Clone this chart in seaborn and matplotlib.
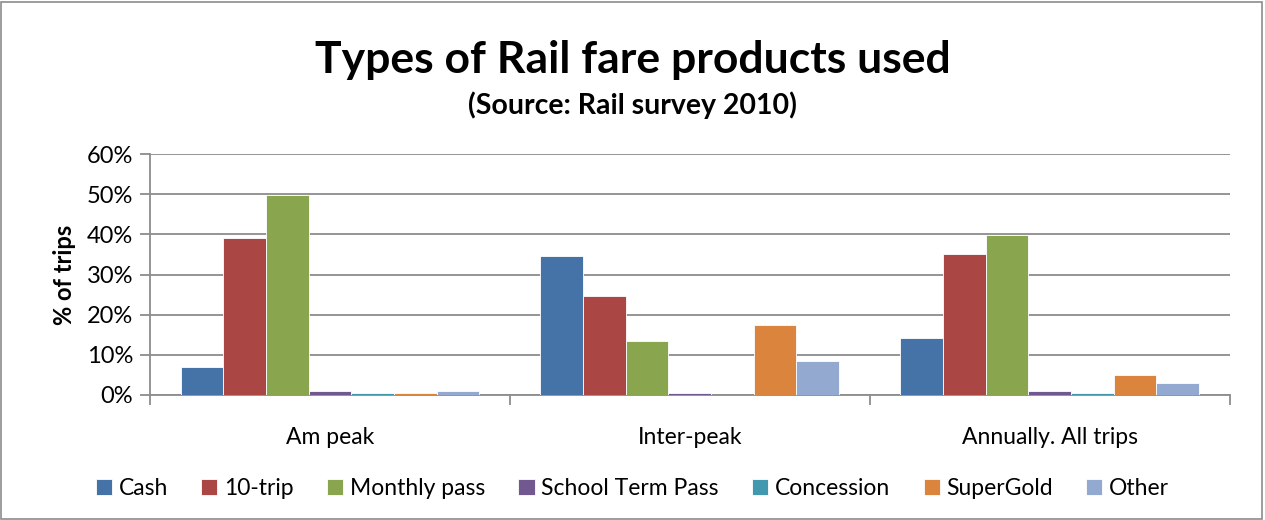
import matplotlib
matplotlib.use("Agg")
import matplotlib.pyplot as plt
import matplotlib.ticker as mticker
from matplotlib.patches import Rectangle
import pandas as pd
import seaborn as sns

periods = ["Am peak", "Inter-peak", "Annually. All trips"]
products = ["Cash", "10-trip", "Monthly pass", "School Term Pass", "Concession", "SuperGold", "Other"]
colors = ["#4572A7", "#AA4643", "#89A54E", "#71588F", "#4198AF", "#DB843D", "#93A9CF"]

cash = [0.069, 0.346, 0.143]
ten_trip = [0.390, 0.246, 0.351]
monthly = [0.499, 0.134, 0.398]
school = [0.010, 0.006, 0.011]
concession = [0.006, 0.0, 0.005]
supergold = [0.006, 0.174, 0.049]
other = [0.011, 0.084, 0.031]

values = [cash, ten_trip, monthly, school, concession, supergold, other]
rows = []
for prod, vals in zip(products, values):
    for per, v in zip(periods, vals):
        rows.append({"period": per, "product": prod, "share": v})
df = pd.DataFrame(rows)

sns.set_theme(style="white")
plt.rcParams["font.family"] = ["Lato", "DejaVu Sans"]
plt.rcParams["text.color"] = "black"
plt.rcParams["xtick.color"] = "black"
plt.rcParams["ytick.color"] = "black"
plt.rcParams["axes.labelcolor"] = "black"

fig = plt.figure(figsize=(12.65, 5.2), dpi=100)
ax = fig.add_axes([0.1186, 0.2404, 0.8534, 0.4634])

sns.barplot(data=df, x="period", y="share", hue="product", order=periods,
            hue_order=products, palette=colors, width=0.83, saturation=1, ax=ax,
            edgecolor="white", linewidth=0.6, zorder=3)

ax.set_ylim(0, 0.6)
ax.set_xlim(-0.5, 2.5)
ax.yaxis.set_major_locator(mticker.MultipleLocator(0.1))
ax.yaxis.set_major_formatter(mticker.FuncFormatter(lambda v, p: f"{v * 100:.0f}%"))
ax.grid(axis="y", color="#8c8c8c", linewidth=1.3, zorder=0)
ax.set_axisbelow(True)

for side in ["top", "right"]:
    ax.spines[side].set_visible(False)
for side in ["left", "bottom"]:
    ax.spines[side].set_color("#8c8c8c")
    ax.spines[side].set_linewidth(1.3)

ax.tick_params(axis="y", which="major", length=7, width=1.3, color="#8c8c8c",
               direction="out", labelsize=17, pad=5, left=True, labelcolor="black")
ax.tick_params(axis="x", which="major", length=0, labelsize=16.5, pad=23, labelcolor="black")
ax.set_xticks([-0.5, 0.5, 1.5, 2.5], minor=True)
ax.tick_params(axis="x", which="minor", length=7, width=1.3, color="#8c8c8c",
               direction="out", bottom=True)

ax.set_xlabel("")
ax.set_ylabel("% of trips", fontsize=17, fontweight="bold", labelpad=8)

fig.text(0.5, 0.885, "Types of Rail fare products used", ha="center", va="center",
         fontsize=32, fontweight="bold")
fig.text(0.5, 0.797, "(Source: Rail survey 2010)", ha="center", va="center",
         fontsize=20.5, fontweight="bold")

ax.legend(loc="center", bbox_to_anchor=(0.5, 0.5), bbox_transform=fig.transFigure,
          ncol=7, frameon=False, fontsize=16.5, handlelength=0.7, handleheight=0.7,
          handletextpad=0.3, columnspacing=1.45)
leg = ax.get_legend()
leg.set_bbox_to_anchor((0.5, 0.06), transform=fig.transFigure)

fig.patches.append(Rectangle((0.001, 0.002), 0.997, 0.995, transform=fig.transFigure,
                             fill=False, edgecolor="#8c8c8c", linewidth=1.2))

fig.savefig("out.png", dpi=100)
